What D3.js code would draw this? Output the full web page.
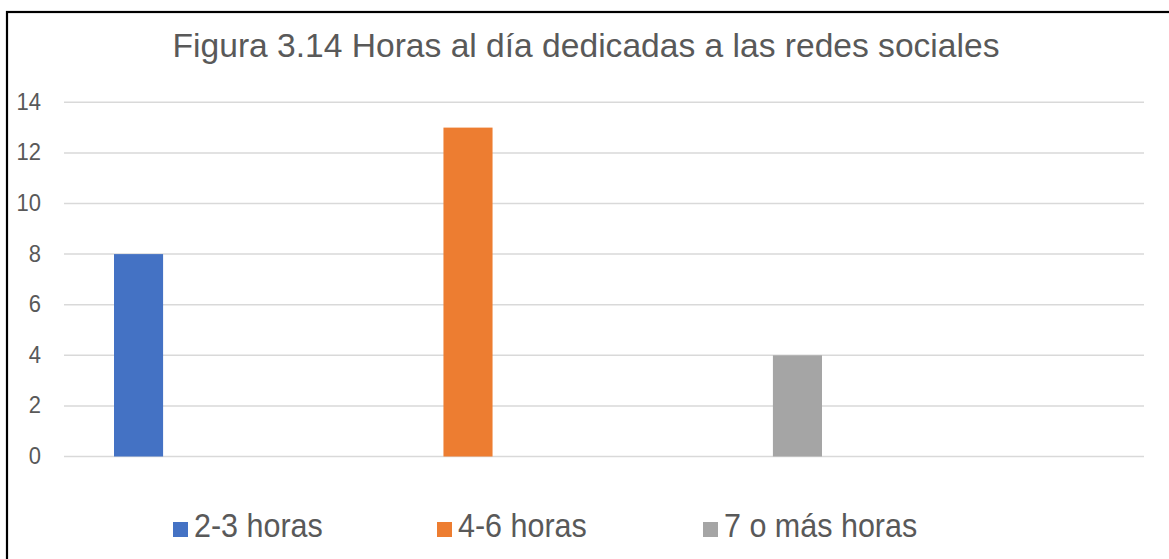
<!DOCTYPE html>
<html>
<head>
<meta charset="utf-8">
<script src="https://cdn.jsdelivr.net/npm/d3@7"></script>
<style>
  body { margin: 0; background: #fff; }
  text { font-family: "Liberation Sans", Arial, sans-serif; fill: #595959; }
</style>
</head>
<body>
<div id="container"></div>
<script>
// data we work with
let series = ["2-3 horas", "4-6 horas", "7 o más horas"];
let values = [8, 13, 4];
let colors = ["#4472C4", "#ED7D31", "#A5A5A5"];
let yTicks = [0, 2, 4, 6, 8, 10, 12, 14];
let title = "Figura 3.14 Horas al día dedicadas a las redes sociales";

let w = 1169;
let h = 559;

let viz = d3.select("#container")
  .append("svg")
    .attr("width", w)
    .attr("height", h)
;

// frame round the chart (runs off the right and bottom edge)
viz.append("rect")
  .attr("x", 7).attr("y", 12)
  .attr("width", w + 20).attr("height", h + 20)
  .attr("fill", "#fff")
  .attr("stroke", "#000")
  .attr("stroke-width", 2.2)
;

// title
viz.append("text")
  .attr("x", 586)
  .attr("y", 57)
  .attr("text-anchor", "middle")
  .attr("font-size", 33.6)
  .text(title)
;

// scales
let plotLeft = 64, plotRight = 1144;
let yScale = d3.scaleLinear().domain([0, 14]).range([456.5, 102.3]);
let xScale = d3.scaleBand()
  .domain(series)
  .range([114, 822])
  .paddingInner(0.851)
  .paddingOuter(0)
;

// gridlines
viz.append("g").selectAll("line").data(yTicks).enter()
  .append("line")
    .attr("x1", plotLeft)
    .attr("x2", plotRight)
    .attr("y1", d => yScale(d))
    .attr("y2", d => yScale(d))
    .attr("stroke", "#d9d9d9")
    .attr("stroke-width", 1.5)
;

// y axis labels (the reference text is a little taller than wide)
let yAxis = d3.axisLeft(yScale).tickValues(yTicks).tickSize(0).tickPadding(0);
let yAxisGroup = viz.append("g")
  .attr("transform", "translate(41,0)")
  .call(yAxis);
yAxisGroup.select(".domain").remove();
yAxisGroup.attr("font-family", null);
yAxisGroup.selectAll(".tick text")
  .attr("font-size", 22)
  .attr("fill", "#595959")
  .attr("y", 0)
  .attr("dy", null)
  .attr("transform", "translate(0,7) scale(1,1.12)");

// bars
viz.append("g").selectAll("rect").data(values).enter()
  .append("rect")
    .attr("x", (d, i) => xScale(series[i]))
    .attr("width", xScale.bandwidth())
    .attr("y", d => yScale(d))
    .attr("height", d => yScale(0) - yScale(d))
    .attr("fill", (d, i) => colors[i])
;

// legend
let legendX = [173, 437, 703];
let legend = viz.append("g").selectAll("g").data(series).enter()
  .append("g")
    .attr("transform", (d, i) => "translate(" + legendX[i] + ",522)")
;
legend.append("rect")
  .attr("width", 15).attr("height", 15)
  .attr("fill", (d, i) => colors[i]);
legend.append("text")
  .attr("x", 21)
  .attr("y", 0)
  .attr("transform", "translate(0,15) scale(1,1.08)")
  .attr("font-size", 30.5)
  .text(d => d);
</script>
</body>
</html>
